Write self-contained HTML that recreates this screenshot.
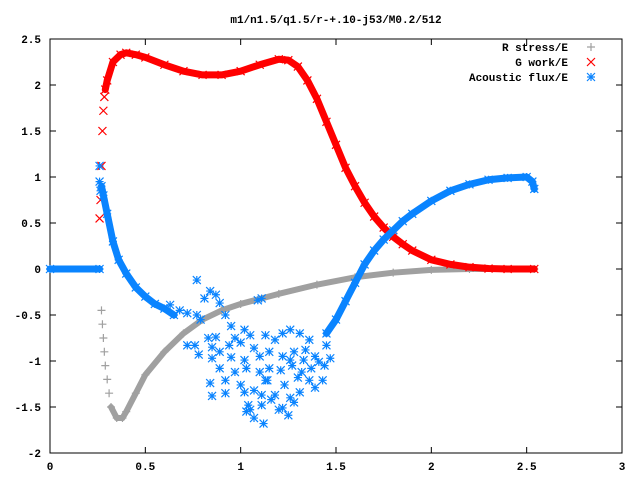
<!DOCTYPE html>
<html><head><meta charset="utf-8">
<style>
html,body{margin:0;padding:0;background:#fff;}
svg{display:block;font-family:"Liberation Mono",monospace;font-weight:bold;font-size:11px;}
</style></head>
<body>
<svg id="chart" width="640" height="480" viewBox="0 0 640 480">
<text x="336" y="23" text-anchor="middle">m1/n1.5/q1.5/r-+.10-j53/M0.2/512</text>
<g id="axes"></g>
<g id="series"></g>
<g id="legend"></g>
</svg>
<script>
const xTicks=[0,0.5,1,1.5,2,2.5,3];
const xTickLabels=["0","0.5","1","1.5","2","2.5","3"];
const yTicks=[2.5,2,1.5,1,0.5,0,-0.5,-1,-1.5,-2];
const yTickLabels=["2.5","2","1.5","1","0.5","0","-0.5","-1","-1.5","-2"];
const seriesNames=["R stress/E","G work/E","Acoustic flux/E"];

const rSparseX=[0.27,0.275,0.28,0.285,0.29,0.3,0.31];
const rSparseY=[-0.45,-0.6,-0.75,-0.9,-1.05,-1.2,-1.35];
const rX=[0.32,0.35,0.38,0.4,0.45,0.5,0.6,0.7,0.8,0.9,1.0,1.2,1.4,1.6,1.8,2.0,2.2,2.54];
const rY=[-1.5,-1.62,-1.62,-1.55,-1.35,-1.15,-0.9,-0.7,-0.55,-0.45,-0.38,-0.27,-0.17,-0.09,-0.04,-0.01,0,0];

const gSparseX=[0.26,0.265,0.27,0.275,0.28,0.285];
const gSparseY=[0.55,0.75,1.12,1.5,1.72,1.87];
const gX=[0.29,0.3,0.33,0.37,0.4,0.45,0.5,0.6,0.7,0.8,0.9,1.0,1.1,1.2,1.25,1.3,1.35,1.4,1.45,1.5,1.55,1.6,1.65,1.7,1.75,1.8,1.85,1.9,2.0,2.1,2.2,2.3,2.4,2.54];
const gY=[1.95,2.05,2.25,2.33,2.35,2.33,2.3,2.22,2.15,2.11,2.11,2.15,2.22,2.28,2.27,2.2,2.05,1.85,1.6,1.35,1.1,0.9,0.72,0.57,0.45,0.35,0.27,0.2,0.1,0.05,0.02,0.005,0,0];

const a0X=[0,0.26];
const a0Y=[0,0];
const aSparseX=[0.26,0.26,0.265];
const aSparseY=[1.12,0.95,0.85];
const aX=[0.27,0.28,0.3,0.33,0.36,0.4,0.45,0.5,0.55,0.6,0.65];
const aY=[0.9,0.8,0.6,0.3,0.1,-0.05,-0.2,-0.3,-0.38,-0.43,-0.5];
const a2X=[1.45,1.5,1.55,1.6,1.65,1.7,1.75,1.8,1.85,1.9,2.0,2.1,2.2,2.3,2.4,2.5,2.53,2.54];
const a2Y=[-0.7,-0.55,-0.35,-0.15,0.05,0.2,0.32,0.42,0.52,0.6,0.74,0.85,0.92,0.97,0.99,1.0,0.95,0.87];
const sX=[0.77,0.84,0.81,0.87,0.72,0.68,0.63,0.79,0.89,0.77,0.92,0.95,1.02,1.09,1.11,0.83,0.85,0.94,1.00,1.05,1.07,1.13,1.18,1.22,1.26,1.31,1.36,0.78,0.85,0.89,0.95,1.02,1.10,1.15,1.22,1.28,1.34,1.39,1.45,0.89,0.97,1.03,1.10,1.15,1.21,1.27,1.32,1.37,1.41,1.44,1.47,0.84,0.92,1.00,1.07,1.14,1.23,1.30,1.36,1.43,0.85,1.02,1.11,1.18,1.26,1.31,1.39,1.04,1.11,1.16,1.22,1.28,1.12,1.05,1.25,1.03,0.92,0.76,0.87,0.97,1.13,1.26,1.33,1.07,1.20,0.72];
const sY=[-0.12,-0.24,-0.32,-0.28,-0.48,-0.45,-0.39,-0.55,-0.37,-0.50,-0.50,-0.62,-0.66,-0.34,-0.32,-0.75,-0.85,-0.83,-0.80,-0.72,-0.86,-0.72,-0.77,-0.70,-0.66,-0.70,-0.77,-0.93,-0.97,-0.90,-0.96,-0.99,-0.95,-0.90,-0.95,-0.90,-0.88,-0.95,-0.83,-1.08,-1.12,-1.08,-1.12,-1.08,-1.10,-1.05,-1.12,-1.08,-1.01,-1.05,-0.97,-1.24,-1.21,-1.26,-1.32,-1.21,-1.26,-1.18,-1.21,-1.21,-1.38,-1.34,-1.37,-1.37,-1.40,-1.34,-1.29,-1.48,-1.48,-1.42,-1.51,-1.45,-1.68,-1.53,-1.59,-1.55,-1.35,-0.83,-0.74,-0.75,-1.21,-0.99,-0.99,-1.62,-1.53,-0.83];

const L=50,R=622,T=39,B=453;
function sx(v){return L+(v-0)/(3-0)*(R-L);}
function sy(v){return B-(v-(-2))/(2.5-(-2))*(B-T);}
const NS="http://www.w3.org/2000/svg";
function mk(tag,attrs,parent){const e=document.createElementNS(NS,tag);for(const k in attrs)e.setAttribute(k,attrs[k]);parent.appendChild(e);return e;}

const axes=document.getElementById('axes');
const frame=mk('rect',{x:L,y:T,width:R-L,height:B-T,fill:'none',stroke:'#000','stroke-width':1},axes);


xTicks.forEach((v,i)=>{
  const x=sx(v);
  const t=mk('path',{d:`M${x},${B}v-6M${x},${T}v6`,stroke:'#000','stroke-width':1},axes);
  
  
  const lb=mk('text',{x:x,y:B+17,'text-anchor':'middle'},axes);
  lb.textContent=xTickLabels[i];
  
  
});
yTicks.forEach((v,i)=>{
  const y=sy(v);
  const t=mk('path',{d:`M${L},${y}h6M${R},${y}h-6`,stroke:'#000','stroke-width':1},axes);
  
  
  const lb=mk('text',{x:L-9,y:y+4,'text-anchor':'end'},axes);
  lb.textContent=yTickLabels[i];
  
  
});

function plusPath(x,y){return `M${x-4},${y}h8M${x},${y-4}v8`;}
function crossPath(x,y){return `M${x-4},${y-4}l8,8M${x-4},${y+4}l8,-8`;}
function starPath(x,y){return plusPath(x,y)+crossPath(x,y);}

const series=document.getElementById('series');
function drawSeries(xs,ys,color,shape,name,band){
  const g=mk('g',{},series);
  
  
  if(band){
    const pts=xs.map((v,i)=>sx(v)+','+sy(ys[i])).join(' ');
    const pl=mk('polyline',{points:pts,fill:'none',stroke:color,'stroke-width':band,'stroke-linejoin':'round','stroke-linecap':'round'},g);
    
    
  }
  let d='';
  xs.forEach((v,i)=>{d+=shape(sx(v),sy(ys[i]));});
  const p=mk('path',{d:d,stroke:color,'stroke-width':1.2,fill:'none'},g);
  
  
}
drawSeries(rSparseX,rSparseY,'#a0a0a0',plusPath,'r-stress-sparse',0);
drawSeries(rX,rY,'#a0a0a0',plusPath,'r-stress-series',6);
drawSeries(gSparseX,gSparseY,'#ff0000',crossPath,'g-work-sparse',0);
drawSeries(gX,gY,'#ff0000',crossPath,'g-work-series',7);
drawSeries(a0X,a0Y,'#0a84ff',starPath,'acoustic-flux-zero',7);
drawSeries(aSparseX,aSparseY,'#0a84ff',starPath,'acoustic-flux-sparse',0);
drawSeries(aX,aY,'#0a84ff',starPath,'acoustic-flux-series',7);
drawSeries(a2X,a2Y,'#0a84ff',starPath,'acoustic-flux-series-rise',7);
drawSeries(sX,sY,'#0a84ff',starPath,'acoustic-flux-scatter',0);

const legend=document.getElementById('legend');
const colors=['#a0a0a0','#ff0000','#0a84ff'];
const shapes=[plusPath,crossPath,starPath];
seriesNames.forEach((n,i)=>{
  const y=47+i*15;
  const g=mk('g',{},legend);
  
  
  const t=mk('text',{x:568,y:y+4,'text-anchor':'end'},g);
  t.textContent=n;
  mk('path',{d:shapes[i](591,y),stroke:colors[i],'stroke-width':1.2,fill:'none'},g);
});
</script>
</body></html>
